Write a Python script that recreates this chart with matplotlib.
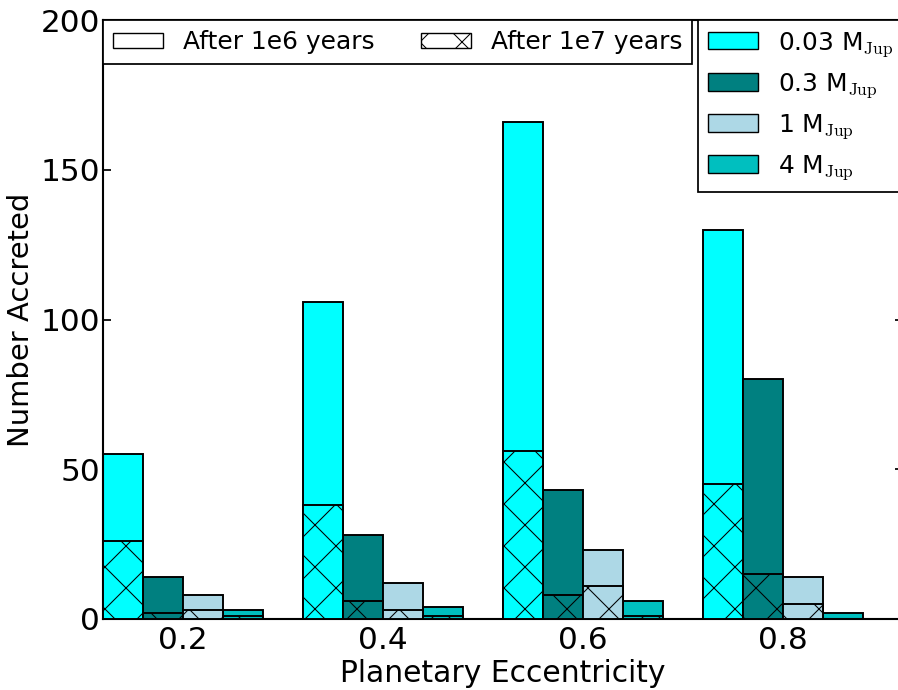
import numpy as np
import matplotlib
matplotlib.use("Agg")
import matplotlib.pyplot as plt
from matplotlib.patches import Patch

# accretion counts per planetary eccentricity and planet mass
eccentricities = [0.2, 0.4, 0.6, 0.8]
mass_labels = [r"0.03 M$_{\rm Jup}$", r"0.3 M$_{\rm Jup}$",
               r"1 M$_{\rm Jup}$", r"4 M$_{\rm Jup}$"]
mass_colors = ["#00FFFF", "#008080", "#ADD8E6", "#00BFBF"]

# number accreted after 1e6 years
n_1e6 = [
    [55, 106, 166, 130],   # 0.03 MJup
    [14, 28, 43, 80],      # 0.3 MJup
    [8, 12, 23, 14],       # 1 MJup
    [3, 4, 6, 2],          # 4 MJup
]
# number accreted after 1e7 years
n_1e7 = [
    [26, 38, 56, 45],
    [2, 6, 8, 15],
    [3, 3, 11, 5],
    [1, 1, 1, 0],
]

DPI = 252
plt.rcParams["mathtext.fontset"] = "cm"
plt.rcParams["hatch.linewidth"] = 0.3
plt.rcParams["font.family"] = "DejaVu Sans"

fig = plt.figure(figsize=(898 / DPI, 690 / DPI), dpi=DPI)
ax = fig.add_axes([103 / 898, 71 / 690, 800 / 898, 599 / 690])

width = 0.04
ecc = np.array(eccentricities)
for i in range(4):
    x = ecc - 2 * width + i * width
    ax.bar(x, n_1e6[i], width=width, align="edge", color=mass_colors[i],
           edgecolor="black", linewidth=0.55, zorder=2)
    ax.bar(x, n_1e7[i], width=width, align="edge", color=mass_colors[i],
           edgecolor="black", linewidth=0.55, hatch="xx", zorder=3)

ax.set_xlim(0.12, 0.92)
ax.set_ylim(0, 200)
ax.set_xticks(eccentricities)
ax.set_yticks([0, 50, 100, 150, 200])
ax.tick_params(direction="in", length=2.4, width=0.5, labelsize=8.9,
               top=True, right=True)
ax.tick_params(axis="x", pad=2.0)
ax.tick_params(axis="y", pad=0.9)
for s in ax.spines.values():
    s.set_linewidth(0.6)

ax.set_xlabel("Planetary Eccentricity", fontsize=8.5, labelpad=1)
ax.set_ylabel("Number Accreted", fontsize=8.3)
ax.yaxis.set_label_coords(-0.085, 0.5)

# legend for the two time snapshots
time_handles = [
    Patch(facecolor="white", edgecolor="black", linewidth=0.4, label="After 1e6 years"),
    Patch(facecolor="white", edgecolor="black", linewidth=0.4, hatch="xx", label="After 1e7 years"),
]
leg1 = ax.legend(handles=time_handles, loc="upper left", ncol=2, fontsize=7.1,
                 borderaxespad=0, fancybox=False, framealpha=1, edgecolor="black",
                 handlelength=2.0, handleheight=0.55, handletextpad=0.8,
                 columnspacing=1.9, borderpad=0.4)
leg1.get_frame().set_linewidth(0.5)
ax.add_artist(leg1)

# legend for planet masses
mass_handles = [Patch(facecolor=c, edgecolor="black", linewidth=0.4, label=l)
                for c, l in zip(mass_colors, mass_labels)]
leg2 = ax.legend(handles=mass_handles, loc="upper right", fontsize=7.1,
                 borderaxespad=0, fancybox=False, framealpha=1, edgecolor="black",
                 handlelength=2.0, handletextpad=0.8, labelspacing=0.5,
                 borderpad=0.4)
leg2.get_frame().set_linewidth(0.5)

fig.savefig("out.png", dpi=DPI)
